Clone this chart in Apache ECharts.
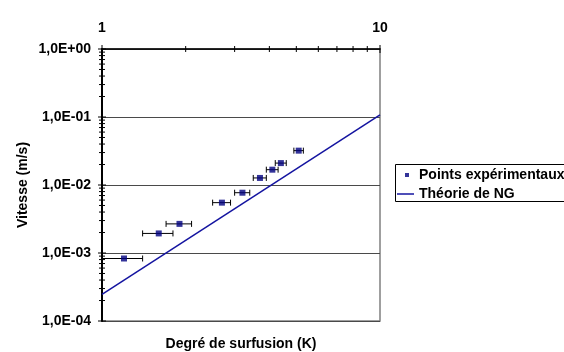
<!DOCTYPE html>
<html>
<head>
<meta charset="utf-8">
<script src="https://cdn.jsdelivr.net/npm/echarts@6/dist/echarts.min.js"></script>
<style>
  html, body { margin: 0; padding: 0; background: #fff; }
  #chart { width: 564px; height: 352px; }
</style>
</head>
<body>
<div id="chart"></div>
<script>
  // experimental points (x = degré de surfusion, y = vitesse) with horizontal error
  const pointX = [1.2, 1.6, 1.9, 2.7, 3.2, 3.7, 4.1, 4.4, 5.1];
  const pointY = [8.3e-4, 1.94e-3, 2.68e-3, 5.5e-3, 7.7e-3, 1.27e-2, 1.68e-2, 2.1e-2, 3.2e-2];
  const pointErr = [0.2, 0.2, 0.2, 0.2, 0.2, 0.2, 0.2, 0.2, 0.2];

  // theory line (straight in log-log)
  const theoryX = [1, 10];
  const theoryY = [2.47e-4, 0.1076];

  const xMajorTicks = [1, 10];
  const xMinorTicks = [2, 3, 4, 5, 6, 7, 8, 9];
  const yMajorTicks = [1e-4, 1e-3, 1e-2, 1e-1, 1];
  const yMinorTicks = [
    2e-4, 3e-4, 4e-4, 5e-4, 6e-4, 7e-4, 8e-4, 9e-4,
    2e-3, 3e-3, 4e-3, 5e-3, 6e-3, 7e-3, 8e-3, 9e-3,
    2e-2, 3e-2, 4e-2, 5e-2, 6e-2, 7e-2, 8e-2, 9e-2,
    0.2, 0.3, 0.4, 0.5, 0.6, 0.7, 0.8, 0.9
  ];

  const FONT = 'Liberation Sans, Arial, sans-serif';
  const X_MIN = 1, X_MAX = 10, Y_MIN = 1e-4, Y_MAX = 1;

  function expLabel(v) {
    const e = Math.round(Math.log10(v));
    const s = e < 0 ? '-' : '+';
    const a = Math.abs(e);
    return '1,0E' + s + (a < 10 ? '0' : '') + a;
  }

  function tickSeries(values, axis, half) {
    return {
      type: 'custom',
      silent: true,
      z: 5,
      clip: false,
      data: values.map(v => [v]),
      renderItem(params, api) {
        const v = api.value(0);
        if (axis === 'x') {
          const p = api.coord([v, Y_MAX]);
          return { type: 'line', shape: { x1: p[0], y1: p[1] - half, x2: p[0], y2: p[1] + half },
                   style: { stroke: '#000', lineWidth: 1 } };
        }
        const p = api.coord([X_MIN, v]);
        return { type: 'line', shape: { x1: p[0] - half, y1: p[1], x2: p[0] + half, y2: p[1] },
                 style: { stroke: '#000', lineWidth: 1 } };
      }
    };
  }

  const chart = echarts.init(document.getElementById('chart'));
  chart.setOption({
    animation: false,
    textStyle: { fontFamily: FONT },
    grid: { left: 102, right: 184, top: 49, bottom: 31, show: true,
            borderColor: '#808080', borderWidth: 1.5, backgroundColor: 'transparent' },
    xAxis: {
      type: 'log', logBase: 10, min: X_MIN, max: X_MAX, position: 'top',
      axisLine: { lineStyle: { color: '#000', width: 1.5 } },
      axisTick: { show: false },
      splitLine: { show: false },
      axisLabel: { color: '#000', fontWeight: 'bold', fontSize: 14, margin: 14, fontFamily: FONT }
    },
    yAxis: {
      type: 'log', logBase: 10, min: Y_MIN, max: Y_MAX, interval: 1,
      axisLine: { lineStyle: { color: '#000', width: 2 } },
      axisTick: { show: false },
      splitLine: { show: true, lineStyle: { color: '#4a4a4a', width: 1 } },
      axisLabel: { color: '#000', fontWeight: 'bold', fontSize: 14, margin: 11,
                   fontFamily: FONT, formatter: expLabel }
    },
    legend: [
      { data: ['Points expérimentaux'], left: 405, top: 168, itemWidth: 4, itemHeight: 4,
        orient: 'vertical', padding: 0,
        textStyle: { color: '#000', fontWeight: 'bold', fontSize: 14, fontFamily: FONT, padding: [0, 0, 0, 5] } },
      { data: [{ name: 'Théorie de NG', icon: 'rect' }], left: 397, top: 187, itemWidth: 17, itemHeight: 1.5,
        orient: 'vertical', padding: 0,
        textStyle: { color: '#000', fontWeight: 'bold', fontSize: 14, fontFamily: FONT } }
    ],
    graphic: [
      { type: 'rect', shape: { x: 395.5, y: 164.5, width: 200, height: 37 },
        style: { fill: 'none', stroke: '#000', lineWidth: 1 }, z: 10 },
      { type: 'text', x: 23, y: 185, rotation: Math.PI / 2,
        style: { text: 'Vitesse (m/s)', fill: '#000', font: 'bold 14px ' + FONT,
                 textAlign: 'center', textVerticalAlign: 'middle' } },
      { type: 'text', x: 241, y: 344,
        style: { text: 'Degré de surfusion (K)', fill: '#000', font: 'bold 14px ' + FONT,
                 textAlign: 'center', textVerticalAlign: 'middle' } }
    ],
    series: [
      tickSeries(xMajorTicks, 'x', 4),
      tickSeries(xMinorTicks, 'x', 3),
      tickSeries(yMajorTicks, 'y', 4),
      tickSeries(yMinorTicks, 'y', 3),
      {
        type: 'custom',
        name: 'errors',
        silent: true,
        z: 3,
        data: pointX.map((x, i) => [x, pointY[i], pointErr[i]]),
        renderItem(params, api) {
          const x = api.value(0), y = api.value(1), e = api.value(2);
          const l = api.coord([x - e, y]);
          const r = api.coord([x + e, y]);
          const st = { stroke: '#000', lineWidth: 1 };
          return { type: 'group', children: [
            { type: 'line', shape: { x1: l[0], y1: l[1], x2: r[0], y2: r[1] }, style: st },
            { type: 'line', shape: { x1: l[0], y1: l[1] - 3, x2: l[0], y2: l[1] + 3 }, style: st },
            { type: 'line', shape: { x1: r[0], y1: r[1] - 3, x2: r[0], y2: r[1] + 3 }, style: st }
          ] };
        }
      },
      {
        name: 'Points expérimentaux',
        type: 'scatter',
        symbol: 'rect',
        symbolSize: 6,
        z: 4,
        itemStyle: { color: '#000080' },
        data: pointX.map((x, i) => [x, pointY[i]])
      },
      {
        name: 'Théorie de NG',
        type: 'line',
        symbol: 'none',
        z: 2,
        lineStyle: { color: '#1414a0', width: 1.5 },
        itemStyle: { color: '#1414a0' },
        data: theoryX.map((x, i) => [x, theoryY[i]])
      }
    ]
  });
</script>
</body>
</html>
